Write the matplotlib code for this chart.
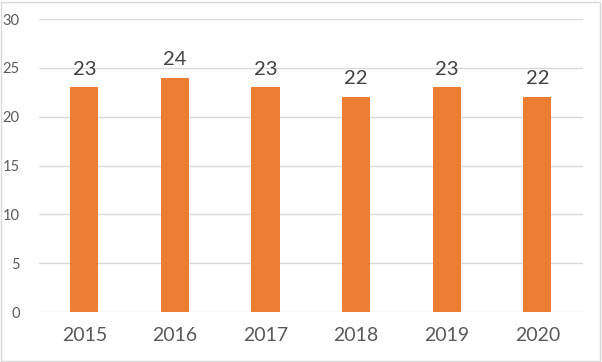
import matplotlib.pyplot as plt
from matplotlib.patches import Rectangle

anios = ['2015', '2016', '2017', '2018', '2019', '2020']
valores = [23, 24, 23, 22, 23, 22]
ticks_y = [0, 5, 10, 15, 20, 25, 30]

plt.rcParams['font.family'] = ['Lato', 'DejaVu Sans']

fig = plt.figure(figsize=(6.02, 3.62), dpi=100)
ax = fig.add_axes([0.0648, 0.138, 0.903, 0.8095])

x = range(len(anios))
barras = ax.bar(x, valores, width=0.31, color='#ED7D31', zorder=3)

for b, v in zip(barras, valores):
    ax.annotate(str(v), (b.get_x() + b.get_width() / 2, v),
                xytext=(0, 7), textcoords='offset points',
                ha='center', va='bottom', fontsize=14.5, color='#404040')

ax.set_xlim(-0.5, len(anios) - 0.5)
ax.set_ylim(0, 30)
ax.set_yticks(ticks_y)
ax.set_xticks(list(x))
ax.set_xticklabels(anios)
ax.tick_params(axis='x', length=0, pad=11, labelsize=14, labelcolor='#595959')
ax.tick_params(axis='y', length=0, pad=14, labelsize=10.5, labelcolor='#595959')
ax.grid(axis='y', color='#d9d9d9', linewidth=1, zorder=0)
for s in ax.spines.values():
    s.set_visible(False)

# borde del grafico
fig.patches.append(Rectangle((0.002, 0.003), 0.995, 0.992, transform=fig.transFigure,
                             fill=False, edgecolor='#d9d9d9', linewidth=1))

fig.savefig('out.png', dpi=100)
